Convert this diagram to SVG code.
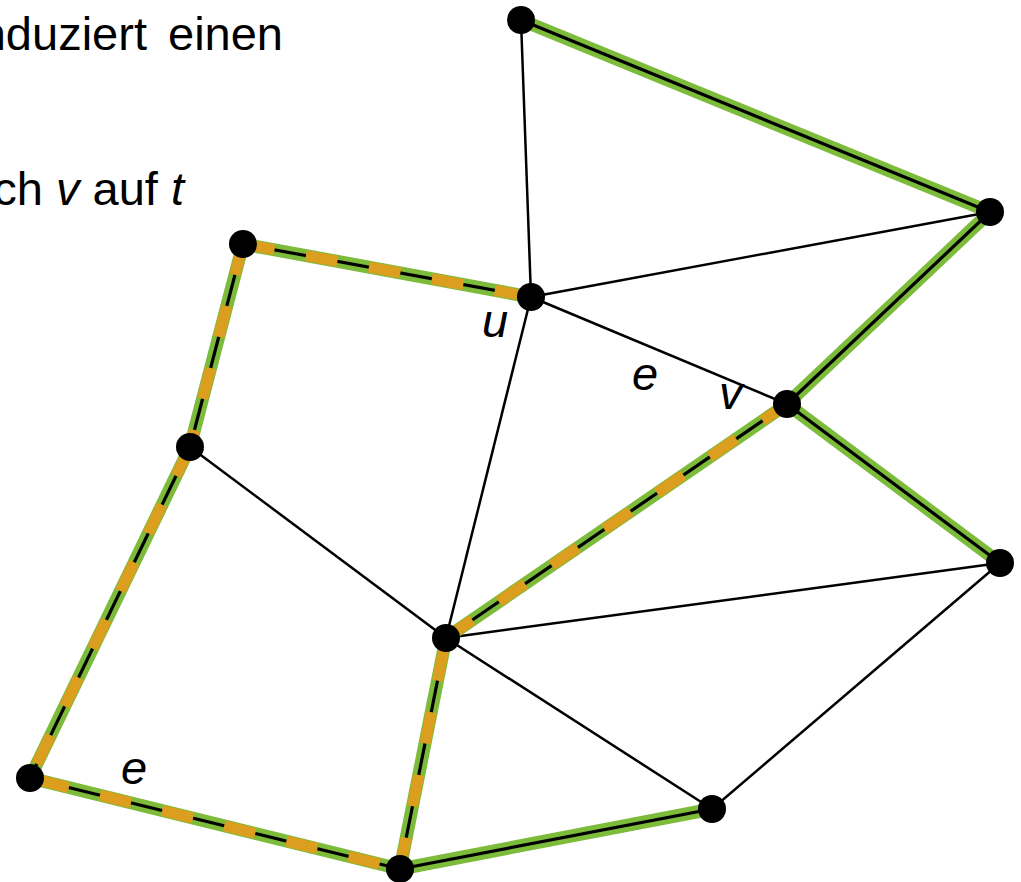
<svg xmlns="http://www.w3.org/2000/svg" width="1021" height="882" viewBox="0 0 1021 882">
<style>
.t{font-family:"Liberation Sans",Arial,sans-serif;font-size:47px;fill:#000}
.i{font-style:italic}
.thin{stroke:#000;stroke-width:2.5;fill:none}
.g{stroke:#7dbb3b;stroke-width:13;fill:none;stroke-linecap:butt}
.b{stroke:#000;stroke-width:3.2;fill:none}
.o{stroke:#dc9e1f;stroke-width:11;fill:none;stroke-dasharray:32 32}
.n{fill:#000}
</style>
<rect width="1021" height="882" fill="#fff"/>
<text class="t" x="283" y="50" text-anchor="end" word-spacing="8">nduziert einen</text>
<text class="t" x="184" y="205" text-anchor="end">ch <tspan class="i">v</tspan> auf <tspan class="i">t</tspan></text>
<g id="connectors">
<g id="thin-edges">
<line class="thin" x1="521" y1="20" x2="531" y2="297"/>
<line class="thin" x1="531" y1="297" x2="990" y2="212"/>
<line class="thin" x1="531" y1="297" x2="787" y2="404"/>
<line class="thin" x1="531" y1="297" x2="446" y2="638"/>
<line class="thin" x1="190" y1="447" x2="446" y2="638"/>
<line class="thin" x1="446" y1="638" x2="1000" y2="563"/>
<line class="thin" x1="446" y1="638" x2="712" y2="809"/>
<line class="thin" x1="1000" y1="563" x2="712" y2="809"/>
</g>
<g id="tree-edges">
<line class="g" x1="521" y1="20" x2="990" y2="212"/>
<line class="g" x1="990" y1="212" x2="787" y2="404"/>
<line class="g" x1="787" y1="404" x2="1000" y2="563"/>
<line class="g" x1="400" y1="869" x2="712" y2="809"/>
<line class="g" x1="243" y1="244" x2="531" y2="297"/>
<line class="g" x1="243" y1="244" x2="190" y2="447"/>
<line class="g" x1="190" y1="447" x2="30" y2="778"/>
<line class="g" x1="30" y1="778" x2="400" y2="869"/>
<line class="g" x1="400" y1="869" x2="446" y2="638"/>
<line class="g" x1="446" y1="638" x2="787" y2="404"/>
<line class="b" x1="521" y1="20" x2="990" y2="212"/>
<line class="b" x1="990" y1="212" x2="787" y2="404"/>
<line class="b" x1="787" y1="404" x2="1000" y2="563"/>
<line class="b" x1="400" y1="869" x2="712" y2="809"/>
<line class="b" x1="243" y1="244" x2="531" y2="297"/>
<line class="b" x1="243" y1="244" x2="190" y2="447"/>
<line class="b" x1="190" y1="447" x2="30" y2="778"/>
<line class="b" x1="30" y1="778" x2="400" y2="869"/>
<line class="b" x1="400" y1="869" x2="446" y2="638"/>
<line class="b" x1="446" y1="638" x2="787" y2="404"/>
</g>
<g id="path-edges">
<line class="o" x1="243" y1="244" x2="531" y2="297"/>
<line class="o" x1="243" y1="244" x2="190" y2="447"/>
<line class="o" x1="190" y1="447" x2="30" y2="778"/>
<line class="o" x1="30" y1="778" x2="400" y2="869" stroke-dashoffset="-8"/>
<line class="o" x1="400" y1="869" x2="446" y2="638"/>
<line class="o" x1="446" y1="638" x2="787" y2="404"/>
</g>
</g>
<g id="n-a"><circle class="n" cx="521" cy="20" r="14"/></g>
<g id="n-b"><circle class="n" cx="990" cy="212" r="14"/></g>
<g id="n-c"><circle class="n" cx="243" cy="244" r="14"/></g>
<g id="n-u"><circle class="n" cx="531" cy="297" r="14"/><text class="t i" x="482" y="337">u</text></g>
<g id="n-v"><circle class="n" cx="787" cy="404" r="14"/><text class="t i" x="719" y="409">v</text></g>
<g id="n-d"><circle class="n" cx="190" cy="447" r="14"/></g>
<g id="n-w"><circle class="n" cx="1000" cy="563" r="14"/></g>
<g id="n-x"><circle class="n" cx="446" cy="638" r="14"/></g>
<g id="n-y"><circle class="n" cx="30" cy="778" r="14"/></g>
<g id="n-z"><circle class="n" cx="712" cy="809" r="14"/></g>
<g id="n-t"><circle class="n" cx="400" cy="869" r="14"/></g>
<g id="labels">
<text class="t i" x="632" y="390">e</text>
<text class="t i" x="121" y="784">e</text>
</g>
</svg>
